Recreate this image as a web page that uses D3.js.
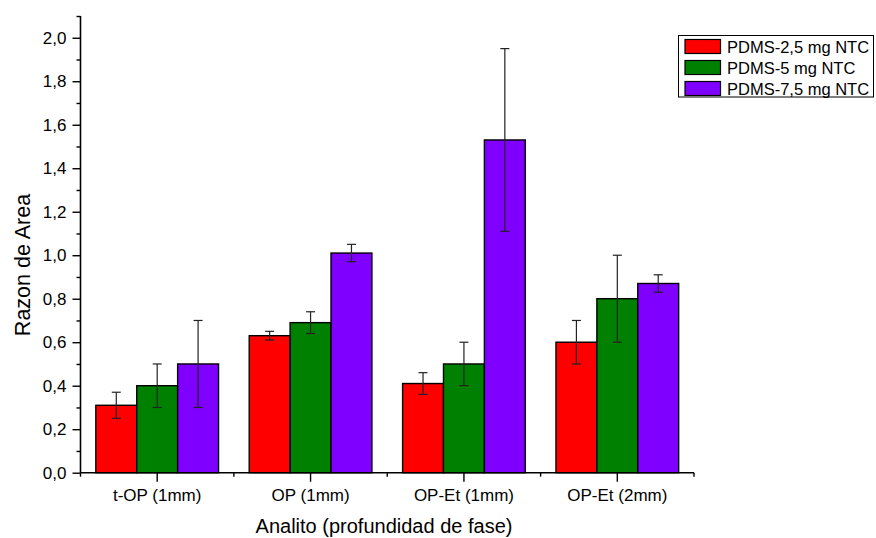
<!DOCTYPE html>
<html><head><meta charset="utf-8">
<script src="https://cdn.jsdelivr.net/npm/d3@7"></script>
<style>
body{margin:0;background:#fff;}
text{font-family:"Liberation Sans",Arial,sans-serif;}
</style></head>
<body>
<svg id="chart" width="876" height="538"></svg>
<script>
const categories = ["t-OP (1mm)", "OP (1mm)", "OP-Et (1mm)", "OP-Et (2mm)"];
const seriesNames = ["PDMS-2,5 mg NTC", "PDMS-5 mg NTC", "PDMS-7,5 mg NTC"];
const seriesColors = ["#FF0000", "#008000", "#8000FF"];
const valuesRed = [0.31, 0.63, 0.41, 0.60];
const valuesGreen = [0.40, 0.69, 0.50, 0.80];
const valuesPurple = [0.50, 1.01, 1.53, 0.87];
const errRed = [0.06, 0.02, 0.05, 0.10];
const errGreen = [0.10, 0.05, 0.10, 0.20];
const errPurple = [0.20, 0.04, 0.42, 0.04];
const yTicks = [0, 0.2, 0.4, 0.6, 0.8, 1.0, 1.2, 1.4, 1.6, 1.8, 2.0];
const yMinorTicks = [0.1, 0.3, 0.5, 0.7, 0.9, 1.1, 1.3, 1.5, 1.7, 1.9, 2.1];

const seriesValues = [valuesRed, valuesGreen, valuesPurple];
const seriesErr = [errRed, errGreen, errPurple];

(function(){
const svg = d3.select("#chart");
const mLeft = 80.5, mRight = 694, mTop = 16, mBottom = 472.7;

const x = d3.scaleBand().domain(categories).range([mLeft, mRight]).paddingInner(0).paddingOuter(0);
const xs = d3.scaleBand().domain(d3.range(3)).range([x.bandwidth()*0.1, x.bandwidth()*0.9]).padding(0);
const y = d3.scaleLinear().domain([0, 2.1]).range([mBottom, mTop]);

const fmt = d => d3.format(".1f")(d).replace(".", ",");

const rows = [];
categories.forEach((c, i) => {
  seriesValues.forEach((vals, s) => {
    rows.push({c, s, v: vals[i], e: seriesErr[s][i]});
  });
});

svg.append("g").selectAll("rect").data(rows).join("rect")
  .attr("x", d => x(d.c) + xs(d.s))
  .attr("y", d => y(d.v))
  .attr("width", xs.bandwidth())
  .attr("height", d => y(0) - y(d.v))
  .attr("fill", d => seriesColors[d.s])
  .attr("stroke", "#000")
  .attr("stroke-width", 1.4);

const eg = svg.append("g").attr("stroke", "#222").attr("stroke-width", 1.2);
rows.forEach(d => {
  const cx = x(d.c) + xs(d.s) + xs.bandwidth()/2;
  eg.append("line").attr("x1", cx).attr("x2", cx).attr("y1", y(d.v + d.e)).attr("y2", y(d.v - d.e));
  eg.append("line").attr("x1", cx-4.5).attr("x2", cx+4.5).attr("y1", y(d.v + d.e)).attr("y2", y(d.v + d.e));
  eg.append("line").attr("x1", cx-4.5).attr("x2", cx+4.5).attr("y1", y(d.v - d.e)).attr("y2", y(d.v - d.e));
});

const yAxis = svg.append("g").attr("transform", `translate(${mLeft},0)`)
  .call(d3.axisLeft(y).tickValues(yTicks).tickFormat(fmt).tickSize(8).tickPadding(6));
yAxis.select(".domain").remove();
yAxis.selectAll("text").attr("font-size", 17).attr("fill", "#000");
yAxis.selectAll("line").attr("stroke", "#000").attr("stroke-width", 1.4);
const yMinor = svg.append("g").attr("transform", `translate(${mLeft},0)`)
  .call(d3.axisLeft(y).tickValues(yMinorTicks).tickFormat("").tickSize(4));
yMinor.select(".domain").remove();
yMinor.selectAll("line").attr("stroke", "#000").attr("stroke-width", 1.4);
svg.append("line").attr("x1", mLeft).attr("x2", mLeft).attr("y1", y(2.1)).attr("y2", y(0))
  .attr("stroke", "#000").attr("stroke-width", 1.6);

const xAxis = svg.append("g").attr("transform", `translate(0,${mBottom})`)
  .call(d3.axisBottom(x).tickSize(9).tickPadding(7));
xAxis.select(".domain").remove();
xAxis.selectAll("text").attr("font-size", 17).attr("fill", "#000");
xAxis.selectAll("line").attr("stroke", "#000").attr("stroke-width", 1.4);
const bounds = categories.map(c => x(c)).concat([x(categories[categories.length-1]) + x.bandwidth()]);
svg.append("g").selectAll("line").data(bounds).join("line")
  .attr("x1", d => d).attr("x2", d => d).attr("y1", mBottom).attr("y2", mBottom + 4)
  .attr("stroke", "#000").attr("stroke-width", 1.4);
svg.append("line").attr("x1", mLeft).attr("x2", mRight).attr("y1", mBottom).attr("y2", mBottom)
  .attr("stroke", "#000").attr("stroke-width", 1.6);

svg.append("text").attr("x", 384).attr("y", 533).attr("text-anchor", "middle")
  .attr("font-size", 20).text("Analito (profundidad de fase)");
svg.append("text").attr("transform", `translate(30,265) rotate(-90)`)
  .attr("text-anchor", "middle").attr("font-size", 21.5).text("Razon de Area");

const lg = svg.append("g");
lg.append("rect").attr("x", 678.5).attr("y", 35.5).attr("width", 195).attr("height", 61.5)
  .attr("fill", "#fff").attr("stroke", "#000").attr("stroke-width", 1);
seriesNames.forEach((n, i) => {
  const yy = 39.5 + i*21;
  lg.append("rect").attr("x", 685).attr("y", yy).attr("width", 35.5).attr("height", 14)
    .attr("fill", seriesColors[i]).attr("stroke", "#000").attr("stroke-width", 1.2);
  lg.append("text").attr("x", 727).attr("y", yy + 13).attr("font-size", 16.5).text(n);
});
})();
</script>
</body></html>
